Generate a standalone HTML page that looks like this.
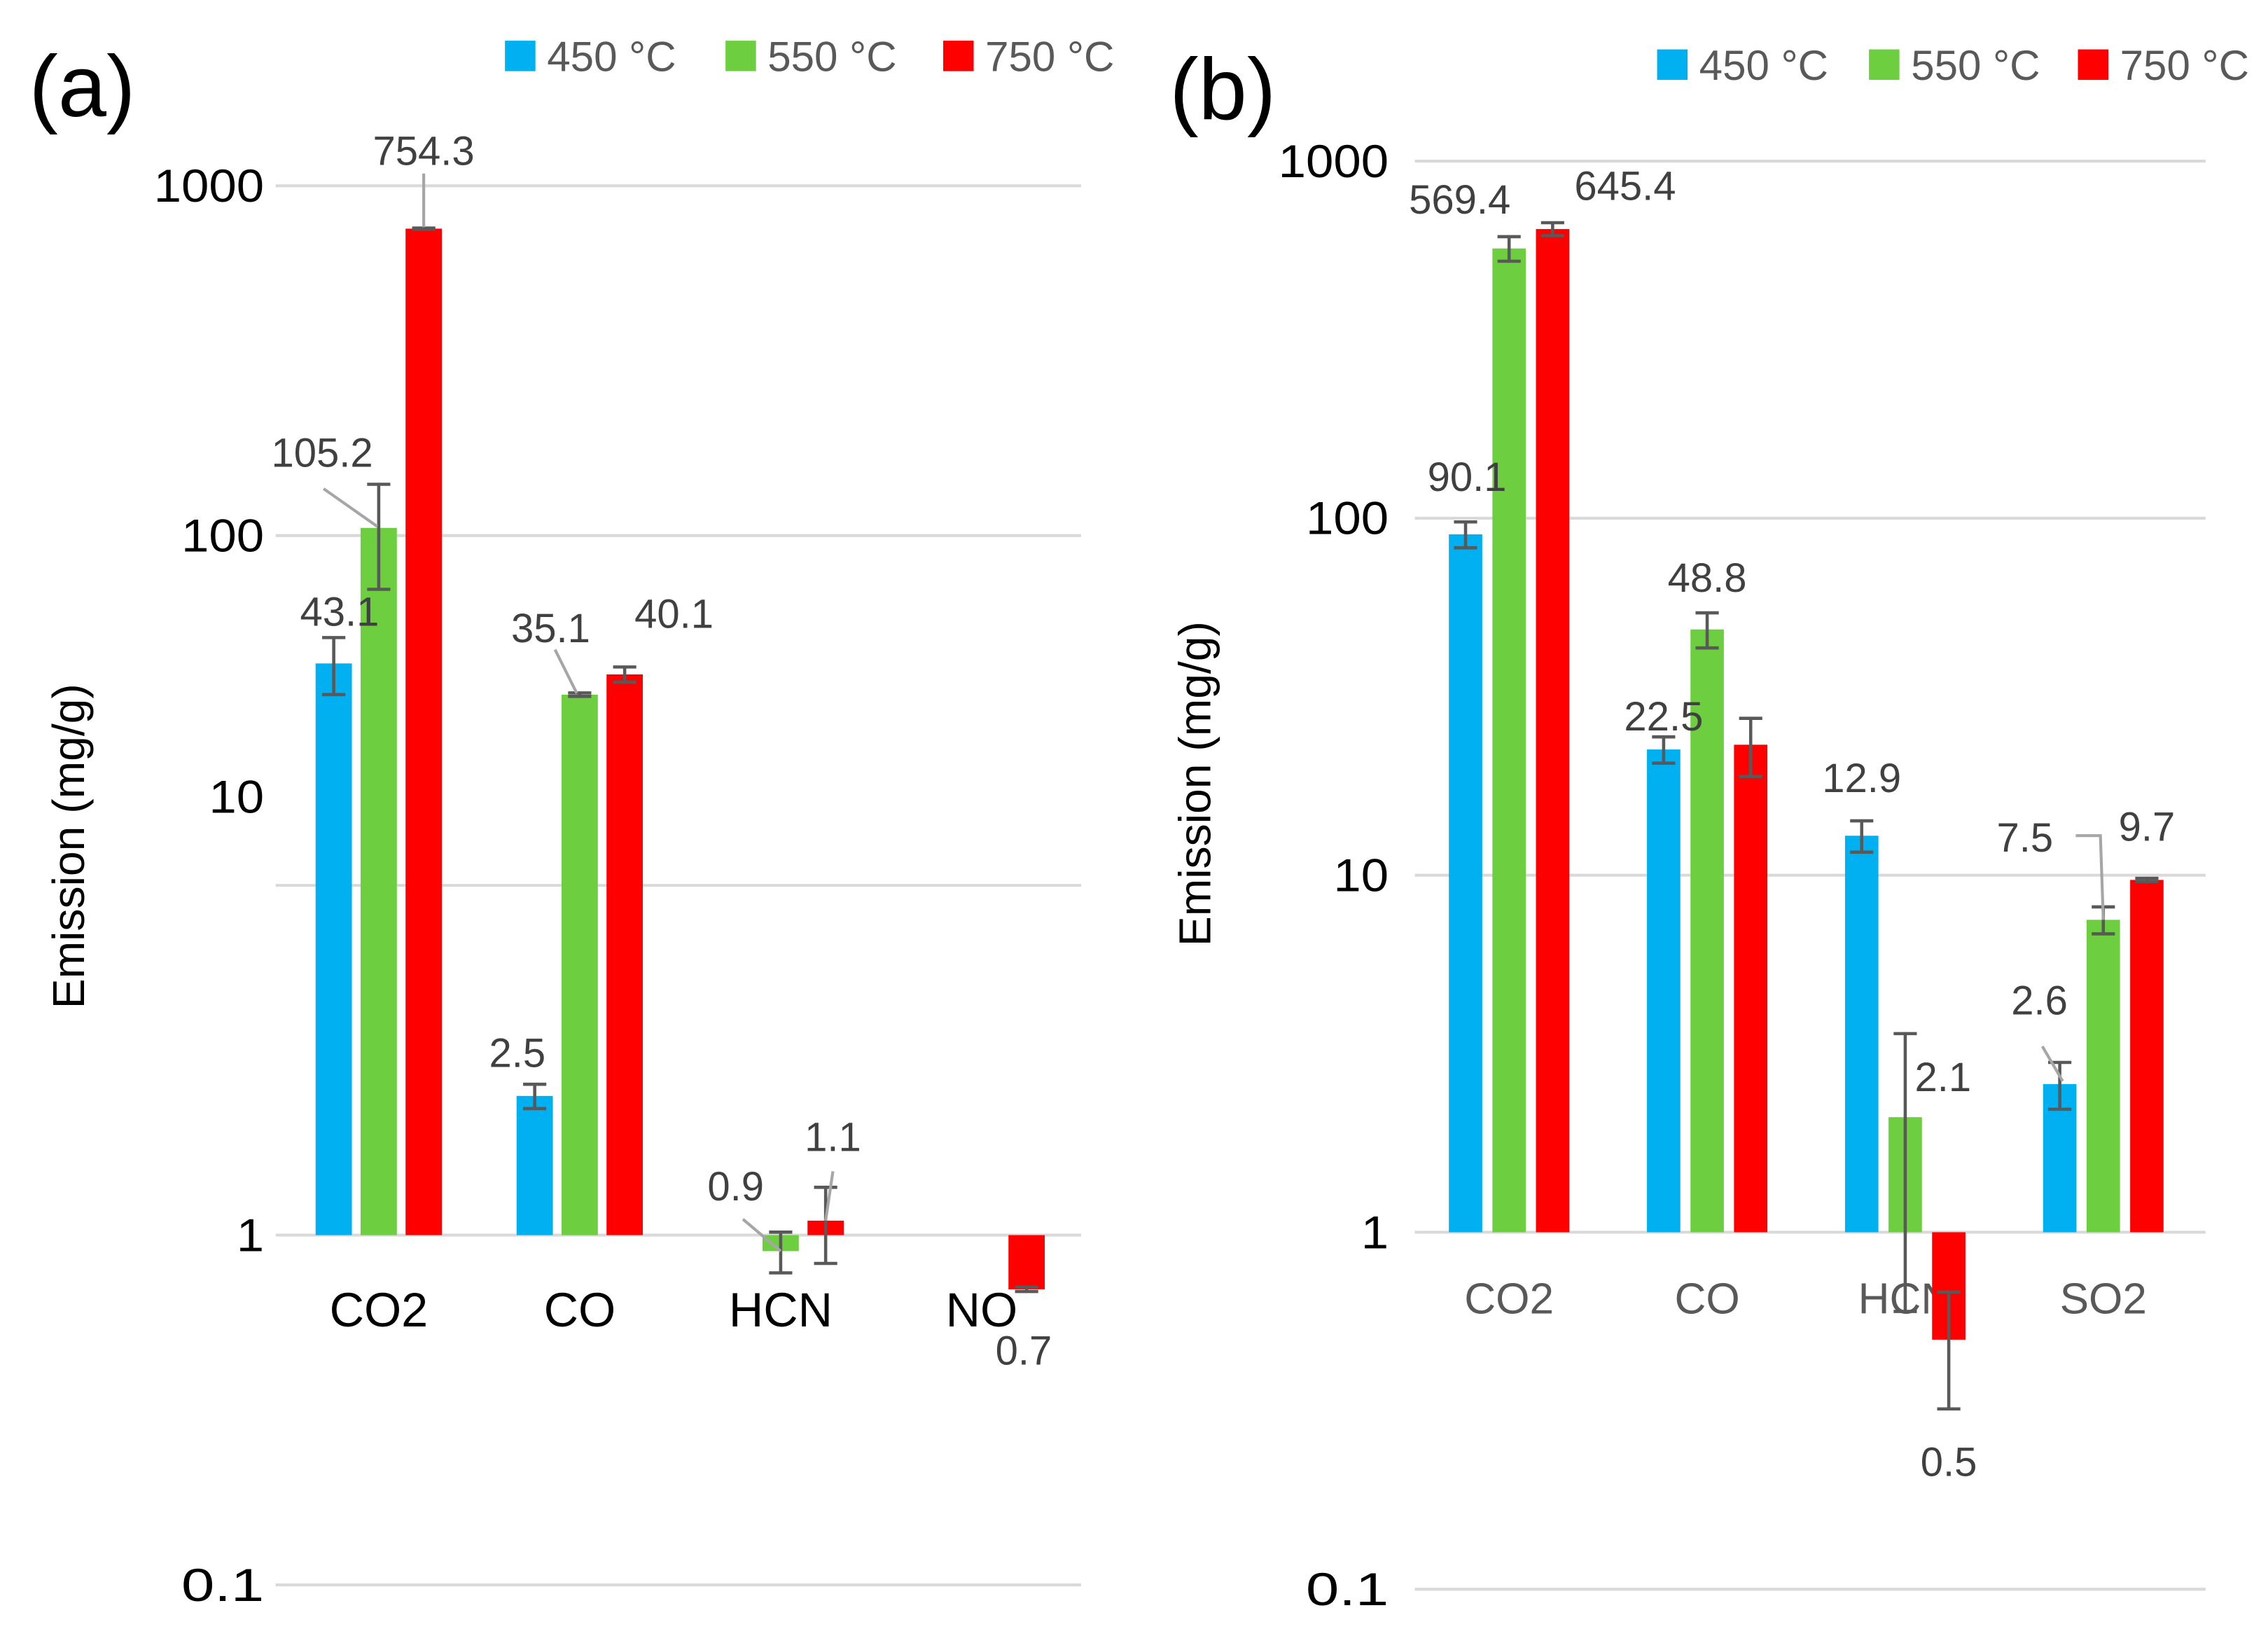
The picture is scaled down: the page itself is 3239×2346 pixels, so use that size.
<!DOCTYPE html>
<html><head><meta charset="utf-8"><style>
html,body{margin:0;padding:0;background:#fff;}
svg{display:block;}
text{font-family:"Liberation Sans",sans-serif;}
</style></head><body>
<svg id="fig" width="3239" height="2346" viewBox="0 0 1563 1132" xmlns="http://www.w3.org/2000/svg"></svg>
<script>
// ---------- Panel (a) data ----------
const catsA = ["CO2","CO","HCN","NO"];
const a450 = [43.1, 2.5, null, null];
const a550 = [105.2, 35.1, 0.9, null];
const a750 = [754.3, 40.1, 1.1, 0.7];
const errA450 = [8, 0.2, 0, 0];
const errA550 = [35, 0.4, 0.12, 0];
const errA750 = [3, 2, 0.27, 0.01];
const ticksA = ["1000","100","10","1","0.1"];
// ---------- Panel (b) data ----------
const catsB = ["CO2","CO","HCN","SO2"];
const b450 = [90.1, 22.5, 12.9, 2.6];
const b550 = [569.4, 48.8, 2.1, 7.5];
const b750 = [645.4, 23.2, 0.5, 9.7];
const errB450 = [7.5, 1.9, 1.3, 0.39];
const errB550 = [45, 5.5, 1.5, 0.65];
const errB750 = [27, 4.3, 0.18, 0.1];
const ticksB = ["1000","100","10","1","0.1"];
const seriesNames = ["450 °C","550 °C","750 °C"];

const NS="http://www.w3.org/2000/svg";
const svg=document.getElementById('fig');
const colors=["#00B0F0","#6DCF3F","#FF0000"];
function mk(tag,attrs,parent){const e=document.createElementNS(NS,tag);for(const k in attrs)e.setAttribute(k,attrs[k]);(parent||svg).appendChild(e);return e;}
function txt(s,attrs,parent){const e=mk('text',attrs,parent);e.textContent=s;return e;}

function panel(cfg){
  const g=mk('g',{});
  
  
  const y=v=>cfg.base-cfg.dec*Math.log10(v);
  const tickVals=[1000,100,10,1,0.1];
  tickVals.forEach((tv,i)=>{
    const gl=mk('line',{x1:cfg.gx0,x2:cfg.gx1,y1:y(tv),y2:y(tv),stroke:"#D9D9D9","stroke-width":2},g);
    
    
    const ly=(cfg.tickShift&&cfg.tickShift[i])?cfg.tickShift[i]:0;
    const t=txt(cfg.ticks[i],{x:cfg.tickX,y:y(tv)+ly+11,"text-anchor":"end","font-size":32,fill:"#000",textLength:cfg.ticks[i].length*19,lengthAdjust:"spacingAndGlyphs"},g);
    
    
  });
  cfg.cats.forEach((c,i)=>{
    const t=txt(c,{x:cfg.c0+cfg.cs*i,y:cfg.catY,"text-anchor":"middle","font-size":cfg.catSize,fill:cfg.catColor},g);
    
    
  });
  const one=y(1);
  cfg.series.forEach((ser,si)=>{
    ser.forEach((v,ci)=>{
      if(v==null)return;
      const cx=cfg.c0+cfg.cs*ci+(si-1)*cfg.off;
      const yv=y(v);
      const r=mk('rect',{x:cx-cfg.bw/2,y:Math.min(yv,one),width:cfg.bw,height:Math.max(Math.abs(yv-one),1.5),fill:colors[si]},g);
      
      
    });
  });
  cfg.series.forEach((ser,si)=>{
    ser.forEach((v,ci)=>{
      if(v==null)return;
      const e=cfg.errs[si][ci];
      const cx=cfg.c0+cfg.cs*ci+(si-1)*cfg.off;
      const hi=y(v+e), lo=y(Math.max(v-e,1e-3));
      const eg=mk('g',{stroke:"#595959","stroke-width":2.2},g);
      
      
      mk('line',{x1:cx,x2:cx,y1:hi,y2:lo},eg);
      mk('line',{x1:cx-8,x2:cx+8,y1:hi,y2:hi},eg);
      mk('line',{x1:cx-8,x2:cx+8,y1:lo,y2:lo},eg);
    });
  });
  cfg.labels.forEach(L=>{
    const v=cfg.series[L[0]][L[1]];
    const cx=cfg.c0+cfg.cs*L[1]+(L[0]-1)*cfg.off;
    const yv=y(v);
    if(L[4]){
      const ln=mk('polyline',{points:L[4].map(p=>(cx+p[0])+','+(yv+p[1])).join(' '),fill:"none",stroke:"#A6A6A6","stroke-width":2},g);
      
      
    }
    const t=txt(String(v),{x:cx+L[2],y:yv+L[3],"text-anchor":"middle","font-size":28,fill:"#404040"},g);
    
    
  });
  seriesNames.forEach((n,i)=>{
    const lx=cfg.legX[i];
    const r=mk('rect',{x:lx,y:cfg.legY-11,width:21,height:21,fill:colors[i]},g);
    
    
    const t=txt(n,{x:lx+29,y:cfg.legY+10,"font-size":29,fill:"#595959"},g);
    
    
  });
  const pl=txt(cfg.tag,{x:cfg.tagX,y:cfg.tagY,"font-size":60,fill:"#000"},g);
  
  
  const yt=txt("Emission (mg/g)",{x:0,y:0,"text-anchor":"middle","font-size":31,fill:"#000",transform:`translate(${cfg.ytX},${cfg.ytY}) rotate(-90)`},g);
  
  
}

panel({name:"panel-a",tag:"(a)",tagX:20,tagY:80,base:851,dec:241,gx0:190,gx1:745,tickX:182,
  ticks:ticksA,tickShift:[0,0,-61,0,0],cats:catsA,c0:261,cs:138.5,off:31,bw:25,catY:914,catSize:33,catColor:"#000",
  series:[a450,a550,a750],errs:[errA450,errA550,errA750],
  labels:[[0,0,4,-26],[1,0,-39,-42,[[-38,-27],[-1,-1]]],[2,0,0,-44,[[0,-38],[0,-1]]],
          [1,1,-20,-36,[[-17,-31],[-2,-1]]],[2,1,34,-32],[0,1,-12,-20],
          [1,2,-31,-35,[[-26,-22],[0,0]]],[2,2,5,-48,[[5,-34],[0,0]]],[2,3,-2,52]],
  legX:[348,500,650],legY:39,ytX:58,ytY:583});

panel({name:"panel-b",tag:"(b)",tagX:806,tagY:82,base:849,dec:246,gx0:975,gx1:1520,tickX:957,
  ticks:ticksB,cats:catsB,c0:1040,cs:136.5,off:30,bw:23,catY:905,catSize:30,catColor:"#595959",
  series:[b450,b550,b750],errs:[errB450,errB550,errB750],
  labels:[[0,0,1,-30],[1,0,-34,-24],[2,0,50,-20],[0,1,0,-13],[1,1,0,-26],[0,2,0,-30],
          [1,2,26,-18],[2,2,0,94],[0,3,-14,-48,[[-12,-26],[2,-2]]],
          [1,3,-54,-47,[[-19,-58],[-2,-58],[0,0]]],[2,3,0,-27]],
  legX:[1142,1288,1432],legY:45,ytX:834,ytY:540});
</script>
</body></html>
